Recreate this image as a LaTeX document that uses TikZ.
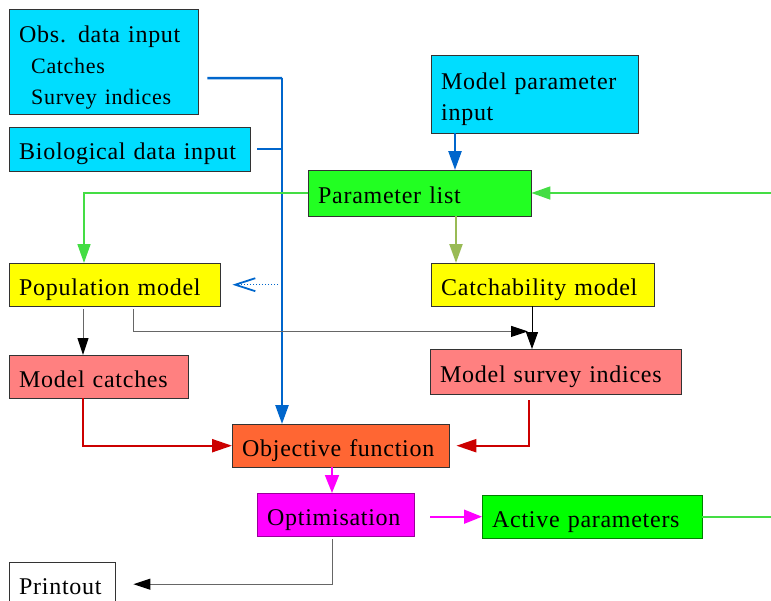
\documentclass[tikz,border=0pt]{standalone}
\usepackage{fontspec}
\setmainfont{Liberation Serif}[LetterSpace=3]
\usetikzlibrary{arrows.meta}
\definecolor{datacyan}{RGB}{0,221,255}
\definecolor{listgreen}{RGB}{34,255,34}
\definecolor{actgreen}{RGB}{0,255,0}
\definecolor{popyellow}{RGB}{255,255,0}
\definecolor{salmon}{RGB}{255,128,128}
\definecolor{objorange}{RGB}{255,102,51}
\definecolor{optmagenta}{RGB}{255,0,255}
\definecolor{flowblue}{RGB}{0,102,204}
\definecolor{flowgreen}{RGB}{68,221,68}
\definecolor{flowolive}{RGB}{153,187,85}
\definecolor{flowred}{RGB}{204,0,0}
\newcommand{\boxfont}{\fontsize{24}{31}\selectfont}
\newcommand{\subfont}{\fontsize{22}{31}\selectfont}
\hyphenpenalty=10000

\begin{document}
\begin{tikzpicture}[x=1pt, y=-1pt,
    box/.style 2 args={draw=black!80, anchor=north west, inner xsep=10pt,
      inner ysep=0pt, align=left, font=\boxfont, text width=#1, minimum height=#2,
      text height=22.5pt, text depth=1.5pt},
    tallbox/.style={text height=, text depth=},
    blueflow/.style={flowblue, line width=2.5pt},
    bluearr/.style={blueflow, -{Triangle[length=19pt,width=13pt]}},
    greenflow/.style={flowgreen, line width=1.7pt},
    greenarr/.style={greenflow, -{Triangle[length=19pt,width=13pt]}},
    olivearr/.style={flowolive, line width=2.2pt, -{Triangle[length=19pt,width=13pt]}},
    redarr/.style={flowred, line width=2.2pt, -{Triangle[length=20pt,width=13pt]}},
    magarr/.style={optmagenta, line width=1.7pt, -{Triangle[length=18pt,width=14pt]}},
    grayarr/.style={black!60, line width=1pt, -{Triangle[length=17pt,width=11pt,black]}},
    blackarr/.style={black, line width=1pt, -{Triangle[length=17pt,width=12pt]}}]

    \useasboundingbox (0,0) rectangle (771,600);

    % boxes
    \node[box={169pt}{105pt}, tallbox, fill=datacyan] (obs) at (9,9)
      {\rule{0pt}{28pt}Obs. data input\\{\subfont\hspace*{12pt}Catches}\\{\subfont\hspace*{12pt}Survey indices}};
    \node[box={221pt}{44pt}, fill=datacyan] (bio) at (9,127) {Biological data input};
    \node[box={187pt}{78pt}, tallbox, fill=datacyan] (mpar) at (431,55) {\rule{0pt}{26pt}Model parameter\\input};
    \node[box={203pt}{46pt}, fill=listgreen] (plist) at (308,170) {Parameter list};
    \node[box={191pt}{43pt}, fill=popyellow] (pop) at (9,263) {Population model};
    \node[box={203pt}{43pt}, fill=popyellow] (catchb) at (431,263) {Catchability model};
    \node[box={159pt}{43pt}, fill=salmon] (mcatch) at (9,355) {Model catches};
    \node[box={231pt}{45pt}, fill=salmon] (msurv) at (430,349) {Model survey indices};
    \node[box={197pt}{43pt}, fill=objorange] (objf) at (232,424) {Objective function};
    \node[box={137pt}{43pt}, fill=optmagenta, draw=optmagenta!60!black] (optim) at (257,493) {Optimisation};
    \node[box={200pt}{43pt}, fill=actgreen, draw=actgreen!50!black] (active) at (482,495) {Active parameters};
    \node[box={86pt}{44pt}, fill=white] (printout) at (9,562) {Printout};

    % coordinates to be reused
    \coordinate (jn) at (282,78);
    \coordinate (rin) at (771,193);
    \coordinate (cq) at ([xshift=101pt,yshift=-25pt]catchb.south west);

    % data inputs
    \draw[blueflow] ([xshift=9pt,yshift=-16.5pt]obs.east) -- (jn);
    \draw[blueflow] ([xshift=7pt]bio.east) -- (bio.east -| jn);
    \draw[bluearr] (jn) -- (jn |- objf.north);
    \draw[flowblue, line width=1pt, dotted,
      -{Straight Barb[length=20pt,width=13pt,line width=1.8pt]}]
      ([xshift=-4pt]pop.east -| jn) -- ([xshift=12pt]pop.east);
    \draw[bluearr] ([xshift=24pt]mpar.south west) -- ([xshift=24pt]mpar.south west |- plist.north);

    % parameters
    \draw[greenarr] (rin) -- (plist.east |- rin);
    \draw[greenarr] (plist.west) -| ([xshift=75pt]pop.north west);
    \draw[olivearr] ([xshift=25pt]catchb.north west |- plist.south) -- ([xshift=25pt]catchb.north west);
    \draw[greenflow] (active.east) -- (active.east -| rin);

    % model outputs
    \draw[grayarr] ([xshift=74pt,yshift=-3pt]pop.south west) -- ([xshift=74pt]mcatch.north west);
    \draw[grayarr] ([xshift=124pt,yshift=-3pt]pop.south west) |- ([xshift=-4pt]cq);
    \draw[blackarr] ([xshift=101pt]catchb.south west) -- ([xshift=101pt]catchb.south west |- msurv.north);
    \draw[redarr] ([xshift=74pt]mcatch.south west) |- (objf.west);
    \draw[redarr] ([xshift=99pt,yshift=-6pt]msurv.south west) |- ([xshift=7pt]objf.east);

    % fitting
    \draw[magarr] ([xshift=75pt]optim.north west |- objf.south) -- ([xshift=75pt]optim.north west);
    \draw[magarr] ([xshift=16pt]optim.east |- active.west) -- (active.west);
    \draw[grayarr] ([xshift=75pt,yshift=-3pt]optim.south west) |- ([xshift=18pt]printout.east);
\end{tikzpicture}
\end{document}
